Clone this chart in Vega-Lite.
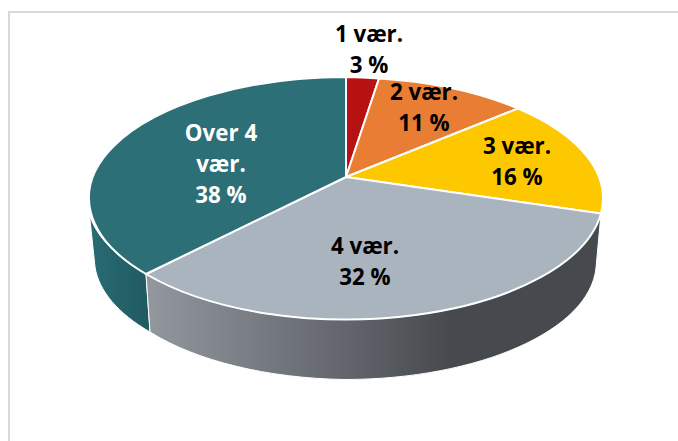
{
"$schema":"https://vega.github.io/schema/vega-lite/v6.json",
"width":678,"height":441,"padding":0,
"autosize":{"type":"none"},
"background":"#ffffff",
"config":{"view":{"stroke":null}},
"data":{"values":[
{"category":"1 vær.","share":3,"label":"1 vær.\n3 %"},
{"category":"2 vær.","share":11,"label":"2 vær.\n11 %"},
{"category":"3 vær.","share":16,"label":"3 vær.\n16 %"},
{"category":"4 vær.","share":32,"label":"4 vær.\n32 %"},
{"category":"Over 4 vær.","share":38,"label":"Over 4\nvær.\n38 %"}
]},
"layer":[
{"transform":[{"filter":"datum.category==='1 vær.'"}],
 "mark":{"type":"point","filled":false,"opacity":1,"size":4,"stroke":"#d9d9d9","strokeWidth":2,"shape":"M-330 221 L-330 -208.5 L339 -208.5"}},
{"transform":[{"filter":"datum.category==='Over 4 vær.'"}],
 "mark":{"type":"point","filled":true,"opacity":1,"size":4,"stroke":"#ffffff","strokeWidth":1,
  "shape":"M-193 53.5 A257 121 0 0 1 -249.5 -5.5 L-244 46.5 A252 117 0 0 0 -189 111.5 Z",
  "fill":{"gradient":"linear","x1":0,"x2":1,"y1":0,"y2":0,"stops":[{"offset":0,"color":"#2a6b73"},{"offset":1,"color":"#1f5a60"}]}}},
{"transform":[{"filter":"datum.category==='4 vær.'"}],
 "mark":{"type":"point","filled":true,"opacity":1,"size":4,"stroke":"#ffffff","strokeWidth":1,
  "shape":"M262 -7 A257 122 0 0 1 -193 53.5 L-189 111.5 A252 117 0 0 0 6 159 A252 117 0 0 0 257 47.5 Z",
  "fill":{"gradient":"linear","x1":0,"x2":1,"y1":0,"y2":0,"stops":[{"offset":0,"color":"#92989e"},{"offset":0.43,"color":"#63666d"},{"offset":0.67,"color":"#46494d"},{"offset":1,"color":"#46494d"}]}}},
{"mark":{"type":"point","filled":true,"opacity":1,"size":4,"stroke":"#ffffff","strokeWidth":2},
 "encoding":{
  "shape":{"field":"category","type":"nominal","legend":null,"scale":{
   "domain":["1 vær.","2 vær.","3 vær.","4 vær.","Over 4 vær."],
   "range":[
    "M7 -43.5 L7 -143.5 A257 121 0 0 1 40 -142 Z",
    "M7 -43.5 L40 -142 A257 121 0 0 1 179 -112 Z",
    "M7 -43.5 L179 -112 A257 121 0 0 1 262 -7 Z",
    "M7 -43.5 L262 -7 A257 122 0 0 1 -193 53.5 Z",
    "M7 -43.5 L-193 53.5 A257 121 0 0 1 7 -143.5 Z"]}},
  "fill":{"field":"category","type":"nominal","legend":null,"scale":{
   "domain":["1 vær.","2 vær.","3 vær.","4 vær.","Over 4 vær."],
   "range":["#b71212","#e97d34","#fdc800","#a9b4be","#2c6f77"]}}
 }},
{"mark":{"type":"text","font":"Open Sans","fontSize":22.3,"fontWeight":700,"lineBreak":"\n","lineHeight":31,"align":"center","baseline":"middle"},
 "encoding":{
  "text":{"field":"label"},
  "x":{"field":"share","type":"quantitative","axis":null,"scale":{"type":"linear","nice":false,"zero":false,"domain":[3,11,16,32,38],"range":[369,424,517,365,221]}},
  "y":{"field":"share","type":"quantitative","axis":null,"scale":{"type":"linear","nice":false,"zero":false,"domain":[3,11,16,32,38],"range":[35,93,147,247,134]}},
  "color":{"field":"category","type":"nominal","legend":null,"scale":{"domain":["1 vær.","2 vær.","3 vær.","4 vær.","Over 4 vær."],"range":["#000000","#000000","#000000","#000000","#ffffff"]}}
 }}
]
}
